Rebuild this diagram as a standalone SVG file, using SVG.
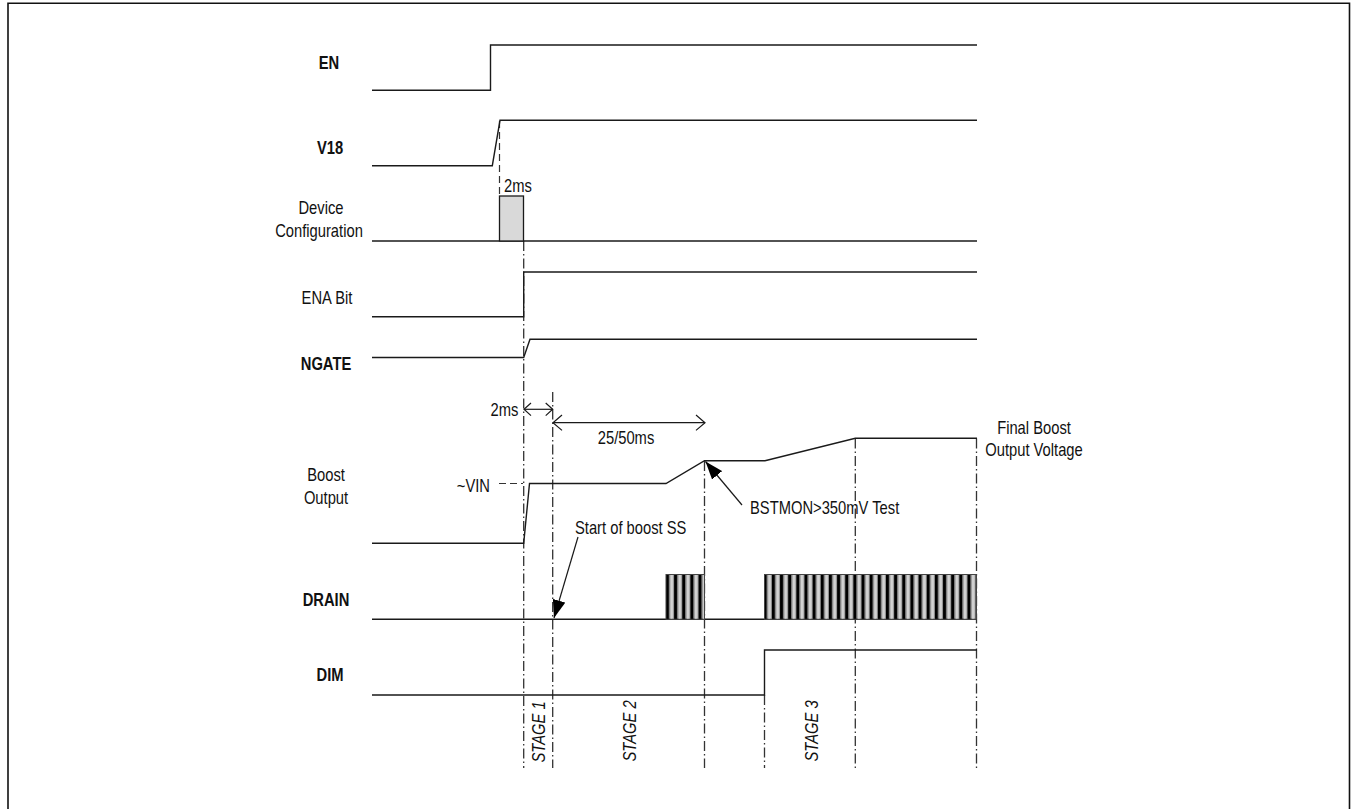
<svg xmlns="http://www.w3.org/2000/svg" width="1351" height="809" viewBox="0 0 1351 809">
<style>
text{font-family:"Liberation Sans",Arial,sans-serif;font-size:18px;fill:#111}
.b{font-weight:bold}
.lbl{text-anchor:middle}
.st{font-style:italic;text-anchor:middle}
.sig{fill:none;stroke:#1a1a1a;stroke-width:1.4}
.dd{fill:none;stroke:#333;stroke-width:1.3;stroke-dasharray:10 3 1.5 3}
.dsh{fill:none;stroke:#333;stroke-width:1.2;stroke-dasharray:7 4}
.arr{fill:none;stroke:#1a1a1a;stroke-width:1.2}
.frame{fill:none;stroke:#111;stroke-width:1.6}
</style>
<defs>
<pattern id="hatch" patternUnits="userSpaceOnUse" x="666" y="0" width="8.15" height="10">
<rect x="0" y="0" width="3.2" height="10" fill="#000"/>
<rect x="3.2" y="0" width="1.1" height="10" fill="#6e6e6e"/>
<rect x="4.3" y="0" width="2.7" height="10" fill="#d2d2d2"/>
<rect x="7" y="0" width="1.15" height="10" fill="#8a8a8a"/>
</pattern>
<marker id="fa" viewBox="0 0 18 13" refX="18" refY="6.5" markerWidth="18" markerHeight="13" markerUnits="userSpaceOnUse" orient="auto">
<path d="M0,0 L18,6.5 L0,13 z" fill="#000"/>
</marker>
</defs>
<rect width="1351" height="809" fill="#fff"/>
<path class="frame" d="M8,809 V3.3 H1349.5 V809"/>

<g id="guides">
<line class="dsh" x1="499.5" y1="121" x2="499.5" y2="196"/>
<line class="dd" x1="523.7" y1="241" x2="523.7" y2="768"/>
<line class="dd" x1="552.7" y1="392" x2="552.7" y2="768"/>
<line class="dd" x1="704.5" y1="461" x2="704.5" y2="768"/>
<line class="dd" x1="764.5" y1="695" x2="764.5" y2="768"/>
<line class="dd" x1="855.3" y1="438.5" x2="855.3" y2="768"/>
<line class="dd" x1="976.5" y1="438.5" x2="976.5" y2="768"/>
</g>

<g id="sig-en">
<text class="lbl b" transform="translate(329,68.5) scale(0.82,1)">EN</text>
<path class="sig" d="M372,90.3 H490.5 V45 H977"/>
</g>
<g id="sig-v18">
<text class="lbl b" transform="translate(330,153.5) scale(0.82,1)">V18</text>
<path class="sig" d="M372,165.7 H492.3 L500,120.3 H977"/>
</g>
<g id="sig-devcfg">
<text class="lbl" transform="translate(321,214) scale(0.82,1)">Device</text>
<text class="lbl" transform="translate(319,237) scale(0.82,1)">Configuration</text>
<path class="sig" d="M372,241 H977"/>
<rect x="499.5" y="196" width="24" height="45" fill="#d9d9d9" stroke="#1a1a1a" stroke-width="1.3"/>
<text transform="translate(504,191.5) scale(0.82,1)">2ms</text>
</g>
<g id="sig-ena">
<text class="lbl" transform="translate(327,303.5) scale(0.82,1)">ENA Bit</text>
<path class="sig" d="M372,316.7 H523.7 V272 H977"/>
</g>
<g id="sig-ngate">
<text class="lbl b" transform="translate(326,369.5) scale(0.82,1)">NGATE</text>
<path class="sig" d="M372,357.5 H523.7 L530,339.3 H977"/>
</g>
<g id="sig-boost">
<text class="lbl" transform="translate(326,480.5) scale(0.82,1)">Boost</text>
<text class="lbl" transform="translate(326,503.5) scale(0.82,1)">Output</text>
<text text-anchor="end" transform="translate(490,491.5) scale(0.82,1)">~VIN</text>
<line class="dsh" x1="499" y1="483.5" x2="523" y2="483.5"/>
<path class="sig" d="M372,543.3 H523.7 L529.5,483.5 H666 L704.5,460.7 H765 L855.3,438.3 H977"/>
<text class="lbl" transform="translate(1034,433.5) scale(0.82,1)">Final Boost</text>
<text class="lbl" transform="translate(1034,455.5) scale(0.82,1)">Output Voltage</text>
</g>
<g id="sig-drain">
<text class="lbl b" transform="translate(326,605.5) scale(0.82,1)">DRAIN</text>
<path class="sig" d="M372,619.3 H977"/>
<rect x="666" y="574.5" width="38.5" height="44.8" fill="url(#hatch)" stroke="#444" stroke-width="1"/>
<rect x="764.5" y="574.5" width="212" height="44.8" fill="url(#hatch)" stroke="#444" stroke-width="1"/>
</g>
<g id="sig-dim">
<text class="lbl b" transform="translate(330,680.5) scale(0.82,1)">DIM</text>
<path class="sig" d="M372,695 H764.5 V650 H977"/>
</g>

<g id="connectors">
<line class="arr" x1="524" y1="409.3" x2="552.7" y2="409.3"/>
<path class="arr" d="M531,403 L524,409.3 L531,415.6 M545.7,403 L552.7,409.3 L545.7,415.6"/>
<line class="arr" x1="553" y1="422.7" x2="705" y2="422.7"/>
<path class="arr" d="M562,415 L553,422.7 L562,430.4 M696,415 L705,422.7 L696,430.4"/>
<line class="arr" x1="578" y1="537" x2="554" y2="618" marker-end="url(#fa)"/>
<line class="arr" x1="742" y1="505" x2="705.5" y2="461.5" marker-end="url(#fa)"/>
</g>

<g id="annotations">
<text transform="translate(490.5,415.5) scale(0.82,1)">2ms</text>
<text class="lbl" transform="translate(626,443.5) scale(0.82,1)">25/50ms</text>
<text transform="translate(575,533.5) scale(0.82,1)">Start of boost SS</text>
<text transform="translate(750,513.5) scale(0.82,1)">BSTMON&gt;350mV Test</text>
<text class="st" transform="translate(545,732) rotate(-90) scale(0.82,1)">STAGE 1</text>
<text class="st" transform="translate(636,731) rotate(-90) scale(0.82,1)">STAGE 2</text>
<text class="st" transform="translate(818,731) rotate(-90) scale(0.82,1)">STAGE 3</text>
</g>
</svg>
